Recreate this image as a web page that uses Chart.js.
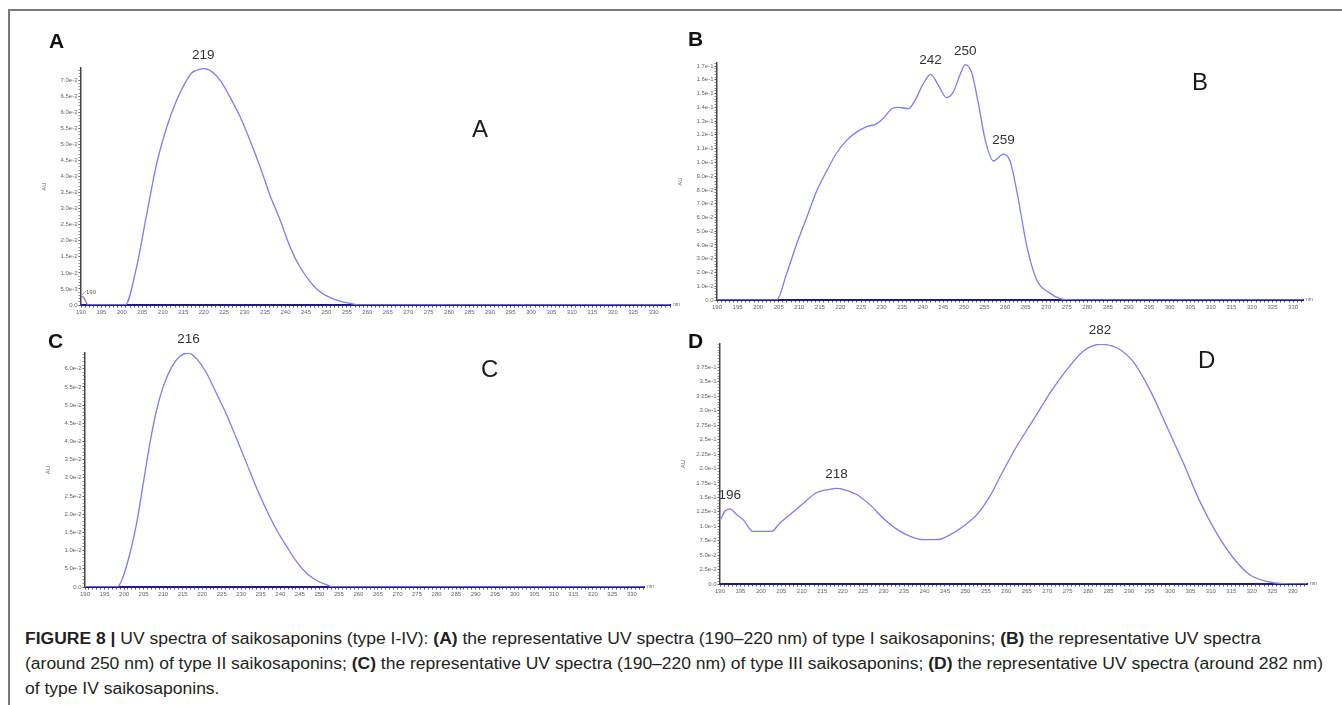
<!DOCTYPE html>
<html>
<head>
<meta charset="utf-8">
<script src="https://cdn.jsdelivr.net/npm/chart.js@4.4.1/dist/chart.umd.min.js"></script>
<style>
  html, body { margin: 0; padding: 0; background: #fff; }
  body { width: 1342px; height: 705px; position: relative; overflow: hidden; font-family: "Liberation Sans", Arial, sans-serif; }
  .box { position: absolute; }
  .letter { position: absolute; font-family: "Liberation Sans", Arial, sans-serif; font-weight: bold; font-size: 21px; line-height: 21px; color: #111; }
  .inner { position: absolute; font-family: "Liberation Sans", Arial, sans-serif; font-weight: normal; font-size: 24px; line-height: 24px; color: #1a1a1a; }
  .cap { position: absolute; left: 25px; white-space: nowrap; font-family: "Liberation Sans Narrow", "Liberation Sans", Arial, sans-serif; font-size: 16px; line-height: 16px; color: #231f20; transform-origin: 0 0; }
  .cap b { font-weight: bold; }
  #bt { position: absolute; left: 9px; top: 9px; width: 1333px; height: 0; border-top: 2px solid #7a7a7a; }
  #bl { position: absolute; left: 8px; top: 9px; width: 0; height: 696px; border-left: 2px solid #7a7a7a; }
</style>
</head>
<body>
<div id="bt"></div><div id="bl"></div>

<div class="box" id="boxA"><canvas id="chartA"></canvas></div>
<div class="box" id="boxB"><canvas id="chartB"></canvas></div>
<div class="box" id="boxC"><canvas id="chartC"></canvas></div>
<div class="box" id="boxD"><canvas id="chartD"></canvas></div>

<div class="letter" style="left:49px; top:30px;">A</div>
<div class="letter" style="left:688px; top:28px;">B</div>
<div class="letter" style="left:48px; top:330px;">C</div>
<div class="letter" style="left:688px; top:330px;">D</div>

<div class="inner" style="left:472px; top:117px;">A</div>
<div class="inner" style="left:1192px; top:70px;">B</div>
<div class="inner" style="left:481px; top:357px;">C</div>
<div class="inner" style="left:1198px; top:348px;">D</div>

<div class="cap" id="cap1" style="top:631px;"><b>FIGURE 8 |</b> UV spectra of saikosaponins (type I-IV): <b>(A)</b> the representative UV spectra (190–220 nm) of type I saikosaponins; <b>(B)</b> the representative UV spectra</div>
<div class="cap" id="cap2" style="top:656px;">(around 250 nm) of type II saikosaponins; <b>(C)</b> the representative UV spectra (190–220 nm) of type III saikosaponins; <b>(D)</b> the representative UV spectra (around 282 nm)</div>
<div class="cap" id="cap3" style="top:681px;">of type IV saikosaponins.</div>

<script>
// ---------------- DATA ----------------
// Panel A (type I)
const nmA = [190, 190.6, 191.8, 200.8, 203.6, 206.1, 208.5, 211.0, 213.4, 215.4, 217.1, 218.3, 219.9, 221.5, 224.0, 226.4, 228.9, 231.3, 233.8, 236.2, 238.7, 241.1, 243.5, 246.0, 248.4, 250.9, 253.3, 256.6, 258.2, 334];
const auA = [0.0028, 0.0024, 0, 0, 0.0119, 0.0285, 0.0440, 0.0555, 0.0638, 0.0690, 0.0723, 0.0731, 0.0736, 0.0731, 0.0700, 0.0648, 0.0586, 0.0513, 0.0430, 0.0342, 0.0264, 0.0181, 0.0119, 0.0073, 0.0041, 0.0023, 0.0012, 0.0003, 0, 0];
const peaksA = [219];
const smallPeaksA = [190];
const yLabelsA = [0, 0.005, 0.01, 0.015, 0.02, 0.025, 0.03, 0.035, 0.04, 0.045, 0.05, 0.055, 0.06, 0.065, 0.07];

// Panel B (type II)
const nmB = [190, 204.5, 206.9, 209.4, 211.8, 214.2, 216.7, 219.1, 221.5, 223.9, 226.4, 228.8, 230.4, 232.5, 234.1, 236.5, 238.1, 240.1, 241.9, 243.8, 245.8, 247.4, 249.1, 250.3, 251.9, 253.5, 255.2, 257.2, 259.6, 261.2, 262.8, 265.3, 267.7, 270.9, 273.4, 276, 332.4];
const auB = [0, 0, 0.019, 0.041, 0.060, 0.079, 0.094, 0.107, 0.116, 0.122, 0.126, 0.128, 0.132, 0.139, 0.140, 0.139, 0.145, 0.157, 0.164, 0.156, 0.147, 0.151, 0.164, 0.171, 0.165, 0.143, 0.116, 0.101, 0.106, 0.101, 0.080, 0.039, 0.0145, 0.005, 0.001, 0, 0];
const peaksB = [242, 250, 259];
const yLabelsB = [0, 0.01, 0.02, 0.03, 0.04, 0.05, 0.06, 0.07, 0.08, 0.09, 0.10, 0.11, 0.12, 0.13, 0.14, 0.15, 0.16, 0.17];

// Panel C (type III)
const nmC = [190, 198.1, 199.4, 201.5, 203.2, 204.9, 206.6, 208.3, 210.0, 212.2, 214.3, 216.5, 218.6, 221.2, 223.7, 226.3, 228.8, 231.4, 234.0, 236.5, 239.1, 241.7, 244.2, 246.8, 249.3, 251.9, 253.6, 333.1];
const auC = [0, 0, 0.0018, 0.0092, 0.0174, 0.0284, 0.0394, 0.0485, 0.0550, 0.0605, 0.0634, 0.0643, 0.0627, 0.0586, 0.0531, 0.0472, 0.0408, 0.0339, 0.0270, 0.0211, 0.0156, 0.0110, 0.0069, 0.0037, 0.0018, 0.0006, 0, 0];
const peaksC = [216];
const yLabelsC = [0, 0.005, 0.01, 0.015, 0.02, 0.025, 0.03, 0.035, 0.04, 0.045, 0.05, 0.055, 0.06];

// Panel D (type IV)
const nmD = [190.2, 191.2, 192.4, 194.1, 195.7, 198.1, 200.6, 202.6, 204.7, 207.1, 210.4, 213.6, 216.9, 218.5, 220.1, 223.4, 226.7, 229.9, 233.2, 236.5, 239.7, 243.0, 246.2, 249.5, 252.8, 256.0, 258.5, 262.5, 266.6, 270.7, 274.8, 278.8, 282.9, 287.0, 291.0, 295.1, 299.2, 303.3, 307.3, 311.4, 315.5, 319.5, 323.6, 327.7, 333.4];
const auD = [0.1125, 0.126, 0.130, 0.120, 0.111, 0.091, 0.091, 0.091, 0.106, 0.120, 0.140, 0.158, 0.164, 0.1655, 0.164, 0.155, 0.137, 0.114, 0.095, 0.0825, 0.0767, 0.0767, 0.085, 0.0998, 0.120, 0.152, 0.186, 0.238, 0.284, 0.331, 0.371, 0.403, 0.415, 0.409, 0.385, 0.336, 0.273, 0.209, 0.143, 0.088, 0.045, 0.016, 0.0046, 0.0006, 0];
const peaksD = [196, 218, 282];
const yLabelsD = [0, 0.025, 0.05, 0.075, 0.1, 0.125, 0.15, 0.175, 0.2, 0.225, 0.25, 0.275, 0.3, 0.325, 0.35, 0.375];

// shared x tick labels (nm)
const xTickLabels = [190, 195, 200, 205, 210, 215, 220, 225, 230, 235, 240, 245, 250, 255, 260, 265, 270, 275, 280, 285, 290, 295, 300, 305, 310, 315, 320, 325, 330];

// ---------------- HELPERS ----------------
function stepValues(min, max, step) {
  const out = [];
  const n = Math.floor((max - min) / step + 1e-9);
  for (let i = 0; i <= n; i++) out.push(+(min + i * step).toFixed(6));
  return out;
}
function fmtAU(v) {
  if (Math.abs(v) < 1e-12) return '0.0';
  let e = Math.floor(Math.log10(v) + 1e-9);
  let m = v / Math.pow(10, e);
  if (m >= 9.995) { m /= 10; e += 1; }
  let s = m.toFixed(2);
  if (s.endsWith('0')) s = m.toFixed(1);
  return s + 'e' + e;
}
function near(a, b) { return Math.abs(a - b) < 1e-7; }

// nearest local maximum of the series to a labelled wavelength
function nearestMax(pts, nm) {
  let best = null, bestD = Infinity;
  for (let i = 0; i < pts.length; i++) {
    const prev = i > 0 ? pts[i - 1].y : -Infinity;
    const next = i < pts.length - 1 ? pts[i + 1].y : -Infinity;
    if (pts[i].y >= prev && pts[i].y >= next && pts[i].y > 0) {
      const d = Math.abs(pts[i].x - nm);
      if (d < bestD) { bestD = d; best = pts[i]; }
    }
  }
  return best;
}

const peakPlugin = {
  id: 'peakLabels',
  afterDatasetsDraw(chart, args, opts) {
    const ctx = chart.ctx;
    const pts = chart.data.datasets[0].data;
    const xs = chart.scales.x, ys = chart.scales.y;
    ctx.save();
    const drawSet = (list, small) => {
      (list || []).forEach(nm => {
        const best = nearestMax(pts, nm);
        if (!best) return;
        const px = xs.getPixelForValue(best.x), py = ys.getPixelForValue(best.y);
        ctx.fillStyle = small ? '#555' : '#333';
        ctx.font = small ? '6px "Liberation Sans", Arial' : '13.5px "Liberation Sans", Arial';
        ctx.textAlign = small ? 'left' : 'center';
        ctx.textBaseline = 'bottom';
        ctx.fillText(String(nm), px + (small ? 5 : 0), py - (small ? 1 : 7));
        if (small) {
          ctx.strokeStyle = '#777'; ctx.lineWidth = 0.6;
          ctx.beginPath(); ctx.moveTo(px + 1, py - 1); ctx.lineTo(px + 5, py - 5); ctx.stroke();
        }
      });
    };
    drawSet(opts.peaks, false);
    drawSet(opts.smallPeaks, true);
    const ca = chart.chartArea;
    ctx.fillStyle = '#666';
    ctx.font = '5px "Liberation Sans", Arial';
    ctx.textAlign = 'left';
    ctx.textBaseline = 'middle';
    ctx.fillText('nm', ca.right + 3, ca.bottom);
    ctx.restore();
  }
};

function makePanel(id, boxId, area, nm, au, xMax, yMax, yMinorStep, yLabels, peaks, smallPeaks) {
  const LW = 40, PT = 32, PR = 20, XH = 14;
  const box = document.getElementById(boxId);
  box.style.left = (area.left - LW) + 'px';
  box.style.top = (area.top - PT) + 'px';
  box.style.width = (area.right - area.left + LW + PR) + 'px';
  box.style.height = (area.bottom - area.top + PT + XH) + 'px';
  const xVals = stepValues(190, xMax, 1);
  const yVals = stepValues(0, yMax, yMinorStep);
  const isLabel = v => yLabels.some(l => near(l, v));
  return new Chart(document.getElementById(id), {
    type: 'line',
    data: {
      datasets: [{
        data: nm.map((x, i) => ({ x: x, y: au[i] })),
        borderColor: '#7c7cf6',
        borderWidth: 1.3,
        pointRadius: 0,
        fill: false,
        cubicInterpolationMode: 'monotone'
      }]
    },
    options: {
      responsive: true,
      maintainAspectRatio: false,
      animation: false,
      devicePixelRatio: 1,
      layout: { padding: { left: 0, top: PT, right: PR, bottom: 0 } },
      plugins: {
        legend: { display: false },
        tooltip: { enabled: false },
        peakLabels: { peaks: peaks, smallPeaks: smallPeaks }
      },
      scales: {
        x: {
          type: 'linear', min: 190, max: xMax,
          afterBuildTicks: s => { s.ticks = xVals.map(v => ({ value: v })); },
          afterFit: s => { s.height = XH; },
          ticks: {
            autoSkip: false, maxRotation: 0, minRotation: 0, padding: 1,
            font: { size: 6, family: '"Liberation Sans", Arial' }, color: '#666',
            callback: v => xTickLabels.some(l => near(l, v)) ? String(v) : ''
          },
          grid: { drawOnChartArea: false, drawTicks: true, tickLength: 2.5, tickColor: '#333', tickWidth: 0.8 },
          border: { display: true, color: '#1e1e78', width: 2 }
        },
        y: {
          type: 'linear', min: 0, max: yMax,
          afterBuildTicks: s => { s.ticks = yVals.map(v => ({ value: v })); },
          afterFit: s => { s.width = LW; },
          ticks: {
            autoSkip: false, padding: 1,
            font: { size: 6, family: '"Liberation Sans", Arial' }, color: '#666',
            callback: v => isLabel(v) ? fmtAU(v) : ''
          },
          grid: {
            drawOnChartArea: false, drawTicks: true, tickLength: 2.5,
            tickColor: ctx => (ctx.tick && isLabel(ctx.tick.value)) ? '#333' : '#777',
            tickWidth: 0.8
          },
          border: { display: true, color: '#444', width: 1.5 },
          title: { display: true, text: 'AU', font: { size: 6, family: '"Liberation Sans", Arial' }, color: '#666', padding: 0 }
        }
      }
    },
    plugins: [peakPlugin]
  });
}

makePanel('chartA', 'boxA', { left: 81, right: 670, top: 68, bottom: 305 }, nmA, auA, 334, 0.0738, 0.001, yLabelsA, peaksA, smallPeaksA);
makePanel('chartB', 'boxB', { left: 717, right: 1303, top: 63, bottom: 300 }, nmB, auB, 332.4, 0.1722, 0.002, yLabelsB, peaksB, []);
makePanel('chartC', 'boxC', { left: 85, right: 644, top: 353, bottom: 587 }, nmC, auC, 333.1, 0.0643, 0.001, yLabelsC, peaksC, []);
makePanel('chartD', 'boxD', { left: 720, right: 1307, top: 344, bottom: 584 }, nmD, auD, 333.5, 0.4155, 0.005, yLabelsD, peaksD, []);

// one common horizontal scale for the caption, fitted to the longest line
const cap2 = document.getElementById('cap2');
const w2 = cap2.getBoundingClientRect().width;
const capScale = w2 > 0 ? 1298 / w2 : 1;
['cap1', 'cap2', 'cap3'].forEach(id => {
  document.getElementById(id).style.transform = 'scaleX(' + capScale.toFixed(4) + ')';
});
</script>
</body>
</html>
